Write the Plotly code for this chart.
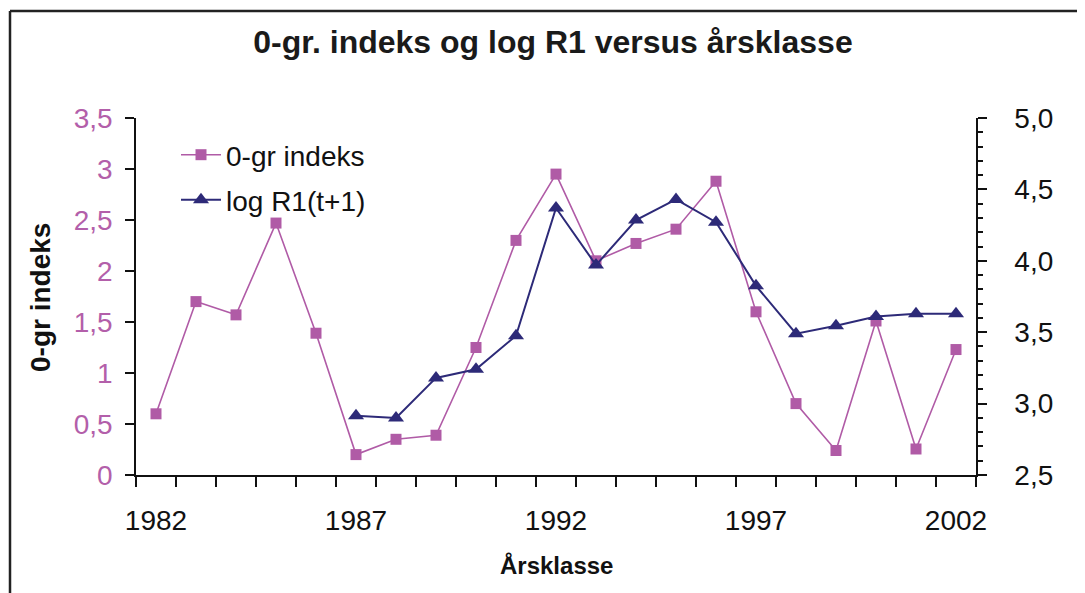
import plotly.graph_objects as go

# Årsklasse (year classes)
years = list(range(1982, 2003))

# 0-gr indeks, 1982-2002
index_0gr = [0.60, 1.70, 1.57, 2.47, 1.39, 0.20, 0.35, 0.39, 1.25, 2.30, 2.95,
             2.10, 2.27, 2.41, 2.88, 1.60, 0.70, 0.24, 1.51, 0.255, 1.23]

# log R1(t+1), available from 1987
r1_years = list(range(1987, 2003))
log_r1 = [2.915, 2.90, 3.18, 3.24, 3.475, 4.37, 3.97, 4.285, 4.43, 4.27,
          3.825, 3.49, 3.545, 3.61, 3.63, 3.63]

label_years = [1982, 1987, 1992, 1997, 2002]

PINK = "#B05BA6"
NAVY = "#2D2A78"
FONT = "Liberation Sans, Arial, sans-serif"

# the page body adds an 8px offset, so the figure is drawn 8px smaller
OFF = 8
W, H = 1085 - OFF, 593 - OFF
L, R, T, B = 136 - OFF, 109, 118 - OFF, 118
PW, PH = W - L - R, H - T - B


def px_x(x):
    # screen pixel -> paper coordinate
    return (x - OFF - L) / PW


def px_y(y):
    return (H - B - (y - OFF)) / PH


fig = go.Figure()

fig.add_trace(go.Scatter(
    x=years, y=index_0gr, name="0-gr indeks", mode="lines+markers",
    line=dict(color=PINK, width=1.6),
    marker=dict(symbol="square", size=11, color=PINK),
    legend="legend",
))
fig.add_trace(go.Scatter(
    x=r1_years, y=log_r1, name="log R1(t+1)", mode="lines+markers",
    line=dict(color=NAVY, width=2),
    marker=dict(symbol="triangle-up", size=14, color=NAVY),
    yaxis="y2", legend="legend2",
))

legend_style = dict(
    font=dict(family=FONT, size=28, color="#111"),
    bgcolor="rgba(0,0,0,0)", xanchor="left", yanchor="middle",
    itemwidth=40,
)

fig.update_layout(
    width=W, height=H,
    margin=dict(l=L, r=R, t=T, b=B),
    paper_bgcolor="white", plot_bgcolor="white",
    separators=", ",
    showlegend=True,
    font=dict(family=FONT, color="#111"),
    title=dict(
        text="<b>0-gr. indeks og log R1 versus årsklasse</b>",
        font=dict(family=FONT, size=32, color="#1a1a1a"),
        x=(553 - OFF) / W, xref="container", xanchor="center",
        y=1 - (42 - OFF) / H, yref="container", yanchor="middle",
    ),
    xaxis=dict(
        range=[1981.5, 2002.5], showgrid=False, zeroline=False,
        showline=True, linecolor="#111", linewidth=1.5,
        tickmode="array", tickvals=label_years, ticks="",
        tickfont=dict(family=FONT, size=28, color="#111"),
        ticklabelstandoff=20,
        minor=dict(tick0=1981.5, dtick=1, ticks="outside", ticklen=10,
                   tickwidth=1.5, tickcolor="#111", showgrid=False),
    ),
    yaxis=dict(
        range=[0, 3.5], dtick=0.5, showgrid=False, zeroline=False,
        showline=True, linecolor="#111", linewidth=1.5,
        ticks="outside", ticklen=9, tickwidth=1.5, tickcolor="#111",
        tickfont=dict(family=FONT, size=28, color="#B35FAA"),
        ticklabelstandoff=7,
    ),
    yaxis2=dict(
        range=[2.5, 5.0], dtick=0.5, tickformat=".1f",
        overlaying="y", side="right", showgrid=False, zeroline=False,
        showline=True, linecolor="#111", linewidth=1.5,
        ticks="outside", ticklen=9, tickwidth=1.5, tickcolor="#111",
        tickfont=dict(family=FONT, size=28, color="#111"),
        ticklabelstandoff=22,
        minor=dict(dtick=0.1, ticks="outside", ticklen=5, tickwidth=1.5,
                   tickcolor="#111", showgrid=False),
    ),
    legend=dict(x=px_x(176), y=px_y(155), **legend_style),
    legend2=dict(x=px_x(176), y=px_y(200), **legend_style),
    annotations=[
        dict(text="<b>0-gr indeks</b>", textangle=-90,
             x=px_x(40), y=px_y(298), xref="paper", yref="paper",
             showarrow=False, font=dict(family=FONT, size=28, color="#111"),
             xanchor="center", yanchor="middle"),
        dict(text="<b>Årsklasse</b>",
             x=px_x(556), y=px_y(565), xref="paper", yref="paper",
             showarrow=False, font=dict(family=FONT, size=24, color="#111"),
             xanchor="center", yanchor="middle"),
    ],
    shapes=[
        dict(type="line", xref="paper", yref="paper",
             x0=px_x(10), x1=px_x(1100), y0=px_y(11), y1=px_y(11),
             line=dict(color="#222", width=2.5)),
        dict(type="line", xref="paper", yref="paper",
             x0=px_x(10), x1=px_x(10), y0=px_y(11), y1=px_y(610),
             line=dict(color="#222", width=2.5)),
    ],
)

fig.write_html("out.html")
